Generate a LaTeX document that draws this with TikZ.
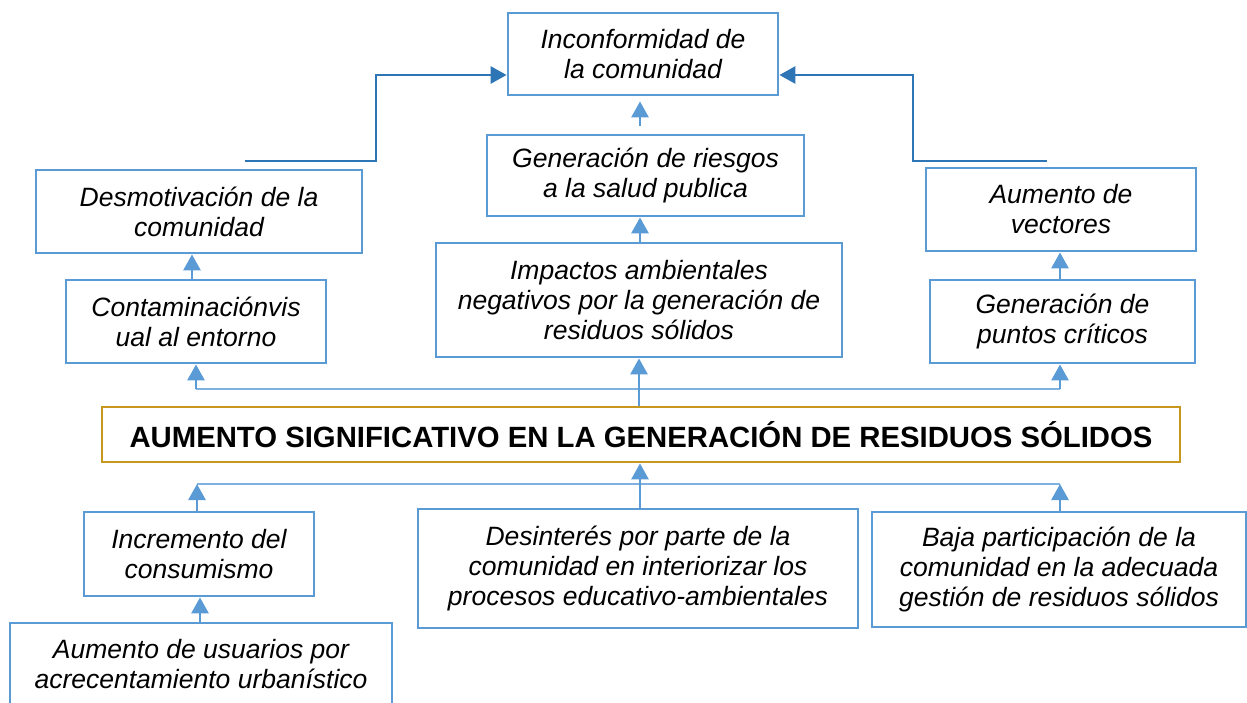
\documentclass[tikz,border=0pt]{standalone}
\usepackage{fontspec}
\setmainfont{Liberation Sans}
\usetikzlibrary{arrows.meta}
\definecolor{boxblue}{HTML}{5B9BD5}
\definecolor{darkblue}{HTML}{2E75B6}
\definecolor{busblue}{HTML}{7EB0E0}
\definecolor{gold}{RGB}{200,152,30}
\begin{document}
\begin{tikzpicture}[x=1pt,y=-1pt,
  box/.style={draw=boxblue, line width=2.8pt, align=center, inner sep=0pt,
    font=\itshape\fontsize{26.5}{30}\selectfont},
  mainbox/.style={draw=gold, line width=2.8pt, align=center, inner sep=0pt,
    font=\bfseries\fontsize{29.3}{33}\selectfont},
  tip/.style={-{Triangle[width=17pt 0 0,length=16pt 0 0]}},
  arr/.style={draw=boxblue, line width=2.8pt, tip},
  darr/.style={draw=darkblue, line width=2.8pt, tip},
  bus/.style={draw=busblue, line width=2.2pt}]
\useasboundingbox (0,0) rectangle (1247,702);

% effects
\node[box, minimum width=270pt, minimum height=82pt] (inc) at (643,54) {Inconformidad de\\la comunidad};
\node[box, minimum width=317pt, minimum height=81pt] (rie) at (645.5,175.5) {Generación de riesgos\\a la salud publica};
\node[box, minimum width=406pt, minimum height=114pt] (imp) at (639,300) {Impactos ambientales\\negativos por la generación de\\residuos sólidos};
\node[box, minimum width=326pt, minimum height=83pt] (des) at (199,211.5) {Desmotivación de la\\comunidad};
\node[box, minimum width=260pt, minimum height=83pt] (con) at (196,321.5) {Contaminaciónvis\\ual al entorno};
\node[box, minimum width=270pt, minimum height=83pt] (vec) at (1061,209.5) {Aumento de\\vectores};
\node[box, minimum width=265pt, minimum height=83pt] (pun) at (1062.5,321.5) {Generación de\\puntos críticos};

% main problem
\node[mainbox, minimum width=1078pt, minimum height=55pt] (main) at (641,434.5) {AUMENTO SIGNIFICATIVO EN LA GENERACIÓN DE RESIDUOS SÓLIDOS};

% causes
\node[box, minimum width=230pt, minimum height=84pt] (incr) at (199,554) {Incremento del\\consumismo};
\node[box, minimum width=382pt, minimum height=82pt] (usu) at (201,664) {Aumento de usuarios por\\acrecentamiento urbanístico};
\node[box, minimum width=440pt, minimum height=119pt] (dsi) at (638,568.5) {Desinterés por parte de la\\comunidad en interiorizar los\\procesos educativo-ambientales};
\node[box, minimum width=374pt, minimum height=115pt] (baj) at (1059,569.5) {Baja participación de la\\comunidad en la adecuada\\gestión de residuos sólidos};

% top dark connectors
\coordinate (lstart) at (245,161);
\coordinate (lt) at (376,75);
\coordinate (rstart) at (1047,161);
\coordinate (rt) at (913,75);
\draw[darr] (lstart) -- (lt |- lstart) -- (lt) -- (lt -| inc.west);
\draw[darr] (rstart) -- (rt |- rstart) -- (rt) -- (rt -| inc.east);

% vertical arrows among effects
\draw[arr, shorten <=8pt, shorten >=5pt] ([xshift=-5.5pt]rie.north) -- ([xshift=-3pt]inc.south);
\draw[arr] ([xshift=1pt]imp.north) -- ([xshift=-5.5pt]rie.south);
\draw[arr] ([xshift=-4pt]con.north) -- ([xshift=-7pt]des.south);
\draw[arr] ([xshift=-2.5pt]pun.north) -- ([xshift=-1pt]vec.south);

% upper bus
\coordinate (tbL) at (196,389);
\coordinate (tbR) at (1060,389);
\draw[bus] (tbL) -- (tbR);
\draw[arr] (tbL) -- (con.south);
\draw[arr] (tbR) -- ([xshift=-2.5pt]pun.south);
\draw[arr] (main.north -| imp.south) -- (imp.south);

% lower bus
\coordinate (bbL) at (197,484);
\coordinate (bbR) at (1060,484);
\draw[bus] (bbL) -- (bbR);
\draw[arr] ([xshift=-2pt]incr.north) -- (bbL);
\draw[arr] (baj.north -| bbR) -- (bbR);
\draw[arr] ([xshift=2pt]dsi.north) -- ([xshift=-1pt]main.south);
\draw[arr] ([xshift=-1pt]usu.north) -- ([xshift=1pt]incr.south);
\end{tikzpicture}
\end{document}
